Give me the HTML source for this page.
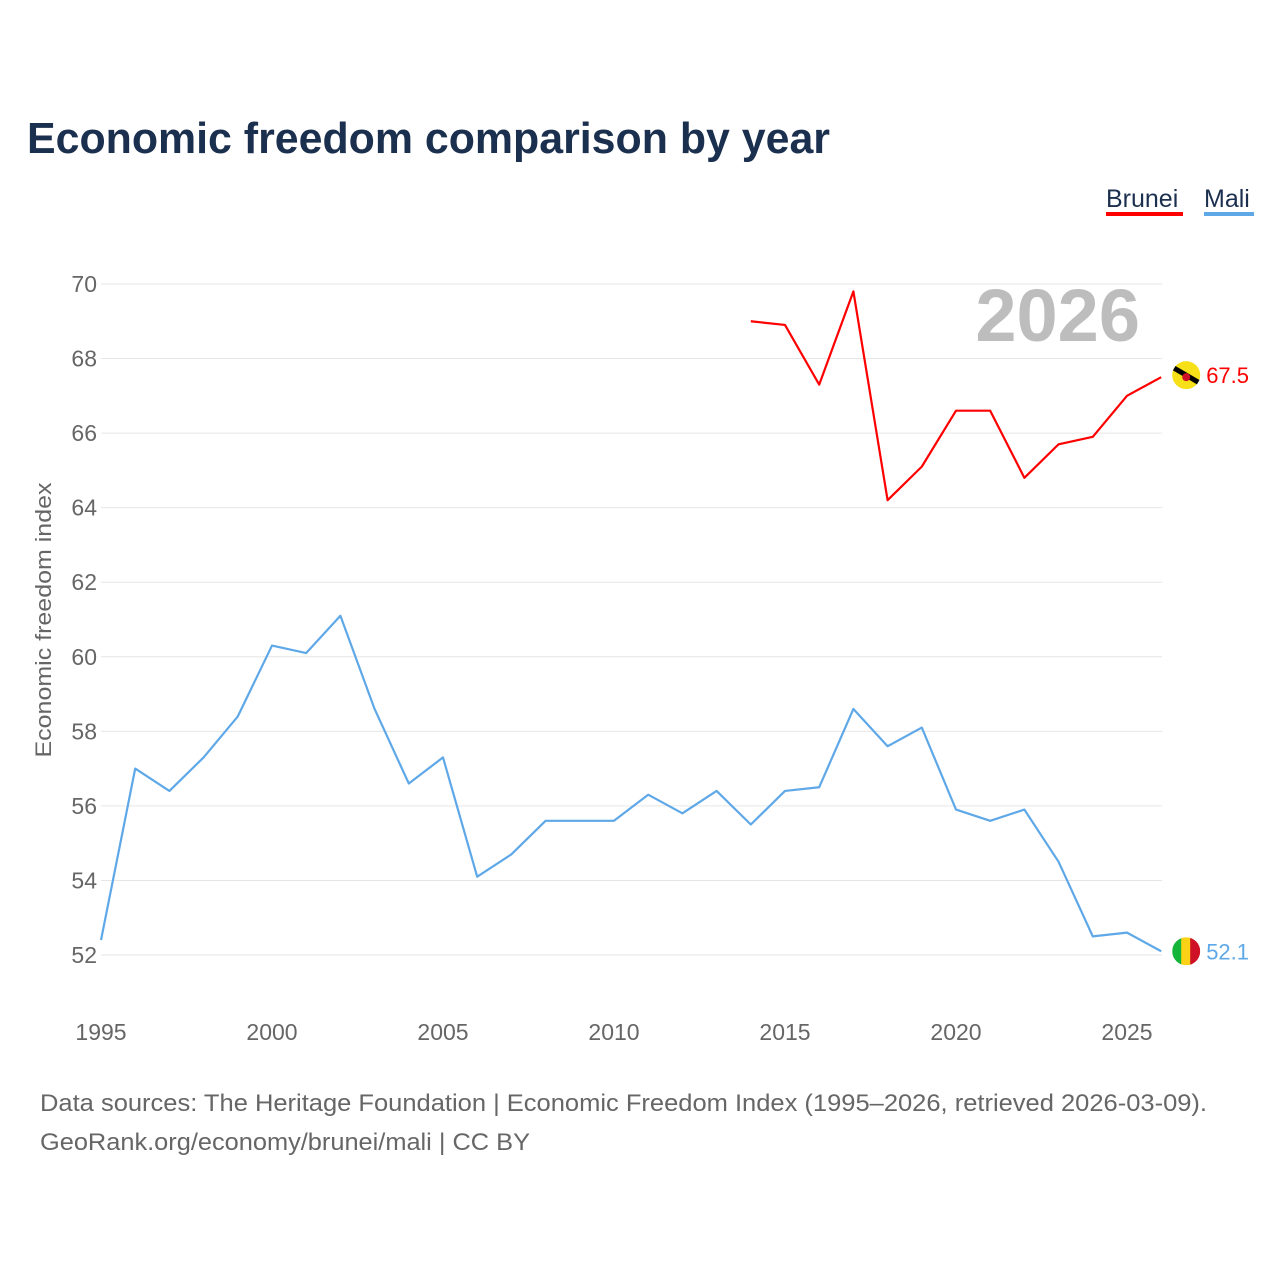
<!DOCTYPE html>
<html><head><meta charset="utf-8"><style>
body{margin:0;background:#fff;font-family:"Liberation Sans",sans-serif;}
svg text{font-family:"Liberation Sans",sans-serif;}
</style></head><body>
<svg id="chart" width="1280" height="1280" viewBox="0 0 1280 1280" xmlns="http://www.w3.org/2000/svg">
<rect width="1280" height="1280" fill="#fff"/>
<text x="27" y="153" font-size="44" font-weight="bold" fill="#1b2f4e" textLength="803" lengthAdjust="spacingAndGlyphs">Economic freedom comparison by year</text>
<g><text x="1106" y="207" font-size="25" fill="#1b2f4e">Brunei</text><rect x="1106" y="212" width="77" height="4" fill="#ff0000"/></g>
<g><text x="1204" y="207" font-size="25" fill="#1b2f4e">Mali</text><rect x="1204" y="212" width="50" height="4" fill="#5fa8e8"/></g>
<g id="grid"></g>
<text x="1140" y="341" font-size="74" font-weight="bold" fill="#bdbdbd" text-anchor="end">2026</text>
<g id="series"></g>
<text transform="translate(51,620) rotate(-90)" font-size="22" fill="#666" text-anchor="middle" textLength="275" lengthAdjust="spacingAndGlyphs">Economic freedom index</text>
<text x="40" y="1111" font-size="24" fill="#666" textLength="1167" lengthAdjust="spacingAndGlyphs">Data sources: The Heritage Foundation | Economic Freedom Index (1995–2026, retrieved 2026-03-09).</text>
<text x="40" y="1150" font-size="24" fill="#666" textLength="490" lengthAdjust="spacingAndGlyphs">GeoRank.org/economy/brunei/mali | CC BY</text>
</svg>
<script>
const years=[1995,1996,1997,1998,1999,2000,2001,2002,2003,2004,2005,2006,2007,2008,2009,2010,2011,2012,2013,2014,2015,2016,2017,2018,2019,2020,2021,2022,2023,2024,2025,2026];
const mali=[52.4,57.0,56.4,57.3,58.4,60.3,60.1,61.1,58.6,56.6,57.3,54.1,54.7,55.6,55.6,55.6,56.3,55.8,56.4,55.5,56.4,56.5,58.6,57.6,58.1,55.9,55.6,55.9,54.5,52.5,52.6,52.1];
const bruneiYears=[2014,2015,2016,2017,2018,2019,2020,2021,2022,2023,2024,2025,2026];
const brunei=[69.0,68.9,67.3,69.8,64.2,65.1,66.6,66.6,64.8,65.7,65.9,67.0,67.5];
const yTicks=[52,54,56,58,60,62,64,66,68,70];
const xTicks=[1995,2000,2005,2010,2015,2020,2025];
const NS='http://www.w3.org/2000/svg';
const xs=y=>101+(y-1995)*34.2;
const ys=v=>955-(v-52)*37.28;
const grid=document.getElementById('grid'),ser=document.getElementById('series');
function mk(t,a,p){const e=document.createElementNS(NS,t);for(const k in a)e.setAttribute(k,a[k]);p.appendChild(e);return e;}
yTicks.forEach(v=>{
 const l=mk('line',{x1:101,x2:1162,y1:ys(v),y2:ys(v),stroke:'#e6e6e6','stroke-width':1},grid);
 
 
 const t=mk('text',{x:97,y:ys(v)+8,'font-size':23,fill:'#666','text-anchor':'end'},grid);
 t.textContent=v;
 
 
});
xTicks.forEach(v=>{
 const t=mk('text',{x:xs(v),y:1040,'font-size':23,fill:'#666','text-anchor':'middle'},grid);
 t.textContent=v;
 
 
});
function line(xv,yv,c,name){
 const p=mk('polyline',{points:xv.map((x,i)=>xs(x)+','+ys(yv[i])).join(' '),fill:'none',stroke:c,'stroke-width':2.2,'stroke-linejoin':'round'},ser);
 
 
}
line(years,mali,'#5fa8e8','mali-line');
line(bruneiYears,brunei,'#ff0000','brunei-line');
const bl=brunei[brunei.length-1],ml=mali[mali.length-1];
const bx=xs(2026)+25;
const bf=mk('g',{},ser);


const by=ys(bl)-2;
mk('circle',{cx:bx,cy:by,r:14,fill:'#f7e017'},bf);
mk('line',{x1:bx-12,y1:by-7,x2:bx+12,y2:by+7,stroke:'#000','stroke-width':5},bf);
mk('circle',{cx:bx,cy:by+2,r:4,fill:'#cf1126'},bf);
const bt=mk('text',{x:bx+20,y:by+8,'font-size':22,fill:'#ff0000'},ser);bt.textContent=bl.toFixed(1);


const mf=mk('g',{},ser);


const my=ys(ml);
const cp=mk('clipPath',{id:'mc'},mf);
mk('circle',{cx:bx,cy:my,r:14},cp);
mk('rect',{x:bx-14,y:my-14,width:10,height:28,fill:'#14b53a','clip-path':'url(#mc)'},mf);
mk('rect',{x:bx-5,y:my-14,width:10,height:28,fill:'#fcd116','clip-path':'url(#mc)'},mf);
mk('rect',{x:bx+4,y:my-14,width:10,height:28,fill:'#ce1126','clip-path':'url(#mc)'},mf);
const mt=mk('text',{x:bx+20,y:my+8,'font-size':22,fill:'#5fa8e8'},ser);mt.textContent=ml.toFixed(1);


</script>
</body></html>
